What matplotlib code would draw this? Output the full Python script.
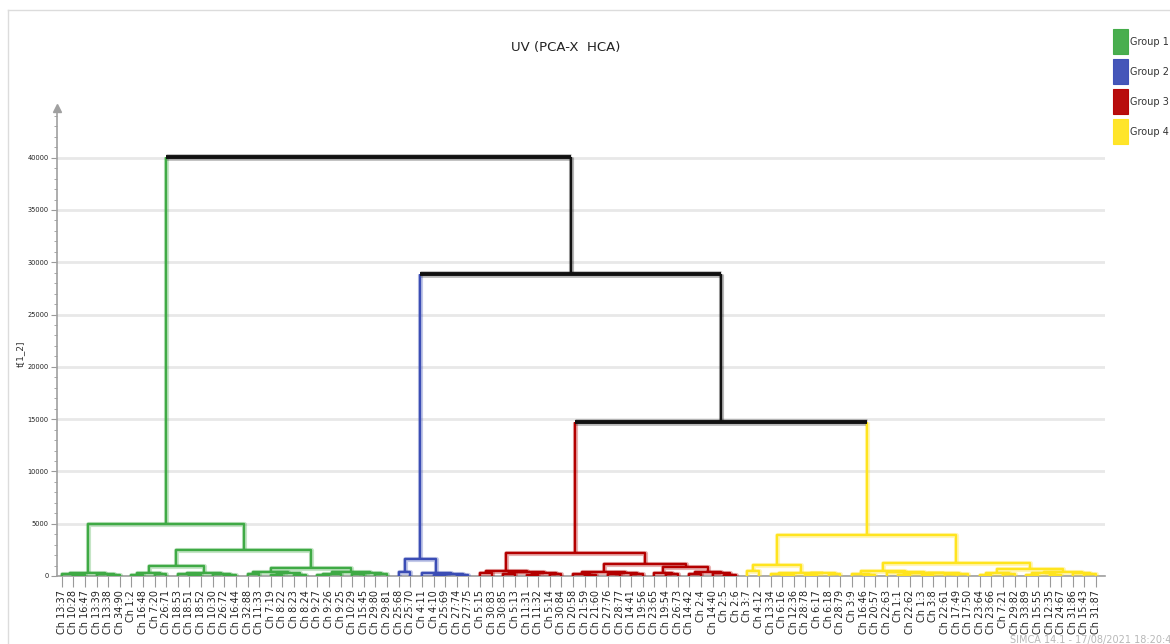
import matplotlib
matplotlib.use("Agg")
import matplotlib.pyplot as plt
from matplotlib import font_manager
from matplotlib.lines import Line2D
from matplotlib.patches import Rectangle
from matplotlib.ticker import MultipleLocator

# ---------------------------------------------------------------- data
title = "UV (PCA-X  HCA)"
y_label = "t[1_2]"
group_names = ["Group 1", "Group 2", "Group 3", "Group 4"]
group_colors = ["#3FAA45", "#3B4DB5", "#B40000", "#FFE41E"]

green_labels = ["Ch 13:37", "Ch 10:28", "Ch 16:47", "Ch 13:39", "Ch 13:38", "Ch 34:90",
                "Ch 1:2", "Ch 16:48", "Ch 7:20", "Ch 26:71", "Ch 18:53", "Ch 18:51",
                "Ch 18:52", "Ch 10:30", "Ch 26:72", "Ch 16:44", "Ch 32:88", "Ch 11:33",
                "Ch 7:19", "Ch 8:22", "Ch 8:23", "Ch 8:24", "Ch 9:27", "Ch 9:26",
                "Ch 9:25", "Ch 10:29", "Ch 15:45", "Ch 29:80", "Ch 29:81"]
blue_labels = ["Ch 25:68", "Ch 25:70", "Ch 4:11", "Ch 4:10", "Ch 25:69", "Ch 27:74",
               "Ch 27:75"]
red_labels = ["Ch 5:15", "Ch 30:83", "Ch 30:85", "Ch 5:13", "Ch 11:31", "Ch 11:32",
              "Ch 5:14", "Ch 30:84", "Ch 20:58", "Ch 21:59", "Ch 21:60", "Ch 27:76",
              "Ch 28:77", "Ch 14:41", "Ch 19:56", "Ch 23:65", "Ch 19:54", "Ch 26:73",
              "Ch 14:42", "Ch 2:4", "Ch 14:40", "Ch 2:5", "Ch 2:6"]
yellow_labels = ["Ch 3:7", "Ch 4:12", "Ch 13:34", "Ch 6:16", "Ch 12:36", "Ch 28:78",
                 "Ch 6:17", "Ch 6:18", "Ch 28:79", "Ch 3:9", "Ch 16:46", "Ch 20:57",
                 "Ch 22:63", "Ch 1:1", "Ch 22:62", "Ch 1:3", "Ch 3:8", "Ch 22:61",
                 "Ch 17:49", "Ch 17:50", "Ch 23:64", "Ch 23:66", "Ch 7:21", "Ch 29:82",
                 "Ch 33:89", "Ch 15:55", "Ch 12:35", "Ch 24:67", "Ch 31:86", "Ch 15:43",
                 "Ch 31:87"]

# cluster trees as (merge height, left, right); integers are leaf positions
green_tree = (5000,
              (300, (150, 0, (90, 1, 2)), (220, 3, (120, 4, 5))),
              (2480,
               (950, (250, (100, 6, 7), (150, 8, 9)),
                (300, (150, 10, (80, 11, 12)), (200, 13, (100, 14, 15)))),
               (760, (350, (150, 16, 17), (280, (100, 18, 19), (120, 20, 21))),
                (400, (200, (100, 22, 23), 24), (300, (150, 25, 26), (180, 27, 28))))))

blue_tree = (1600, (380, 29, 30), (300, 31, (200, (100, 32, 33), (120, 34, 35))))

red_tree = (2200,
            (450, (250, 36, 37), (350, (150, 38, 39), (280, (120, 40, 41), (200, 42, 43)))),
            (1100, (400, (200, 44, (100, 45, 46)), (300, (150, 47, 48), (180, 49, 50))),
             (850, (300, 51, (150, 52, 53)), (380, (200, 54, 55), (250, 56, (100, 57, 58))))))

yellow_tree = (3900,
               (1050, (500, 59, 60),
                (300, (150, 61, (80, 62, 63)), (250, (120, 64, 65), (180, 66, 67)))),
               (1230,
                (500, (200, 68, (100, 69, 70)),
                 (350, 71, (300, (120, 72, 73), (250, (100, 74, 75), (200, (150, 76, 77), 78))))),
                (700, (250, (100, 79, 80), (150, 81, 82)),
                 (400, (250, (100, 83, 84), (120, 85, 86)), (300, 87, (150, 88, 89))))))

red_yellow_height = 14700
blue_rest_height = 28900
root_height = 40100

# ---------------------------------------------------------------- fonts
plt.rcParams["font.family"] = ["DejaVu Sans"]
_installed = {f.name for f in font_manager.fontManager.ttflist}
if "Liberation Sans Narrow" in _installed:
    narrow = "Liberation Sans Narrow"
    title_size, legend_size, ytick_size = 10.5, 9, 6.5
else:
    narrow = "DejaVu Sans"
    title_size, legend_size, ytick_size = 9.5, 7, 4.8

# ---------------------------------------------------------------- figure
fig = plt.figure(figsize=(11.7, 6.44), dpi=100)
fig.patch.set_facecolor("white")
ax = fig.add_axes([57 / 1170, 1 - 576 / 644, (1105 - 57) / 1170, (576 - 108) / 644])

all_labels = green_labels + blue_labels + red_labels + yellow_labels


def seg(xs, ys, color, lw=1.7):
    ax.plot(xs, ys, color=color, lw=lw + 2.0, alpha=0.3, solid_capstyle="butt", zorder=3)
    ax.plot(xs, ys, color=color, lw=lw, solid_capstyle="butt", zorder=4)


def draw_tree(node, color):
    if isinstance(node, int):
        return float(node), 0.0
    h, left, right = node
    xl, hl = draw_tree(left, color)
    xr, hr = draw_tree(right, color)
    seg([xl, xl, xr, xr], [hl, h, h, hr], color)
    return (xl + xr) / 2, h


def join(a, b, h):
    (xa, ha, ca), (xb, hb, cb) = a, b
    seg([xa, xa], [ha, h], ca)
    seg([xb, xb], [hb, h], cb)
    seg([xa, xb], [h, h], "#111111", lw=2.8)
    return (xa + xb) / 2, h, "#111111"


groups = []
for tree, col in zip([green_tree, blue_tree, red_tree, yellow_tree], group_colors):
    x, h = draw_tree(tree, col)
    groups.append((x, h, col))

ry = join(groups[2], groups[3], red_yellow_height)
br = join(groups[1], ry, blue_rest_height)
join(groups[0], br, root_height)

# ---------------------------------------------------------------- axes styling
n = len(all_labels)
ax.set_xlim(-0.4, n - 1 + 0.77)
ax.set_ylim(0, 44750)
ax.set_xticks(range(n))
ax.set_xticklabels(all_labels, rotation=90, fontsize=7, color="#222222")
ax.yaxis.set_major_locator(MultipleLocator(5000))
ax.yaxis.set_minor_locator(MultipleLocator(1000))
ax.tick_params(axis="x", length=8, width=0.8, color="#9a9a9a", pad=2)
ax.tick_params(axis="y", which="major", length=4, width=0.8, color="#9a9a9a",
               labelsize=ytick_size, labelcolor="#222222", pad=2)
ax.tick_params(axis="y", which="minor", length=2, width=0.6, color="#9a9a9a")
for lab in ax.get_yticklabels():
    lab.set_fontfamily(narrow)
ax.grid(axis="y", which="major", color="#e8e8e8", lw=2)
ax.set_axisbelow(True)
for s in ("top", "right"):
    ax.spines[s].set_visible(False)
for s in ("left", "bottom"):
    ax.spines[s].set_color("#a0a0a0")
    ax.spines[s].set_linewidth(1.2)
ax.plot([0], [1.0], marker="^", markersize=6, color="#a0a0a0",
        transform=ax.transAxes, clip_on=False, zorder=5)

fig.text(0.0175, 0.45, y_label, rotation=90, ha="center", va="center",
         fontsize=6.5, color="#333333")
fig.text(566 / 1170, 1 - 47 / 644, title, ha="center", va="center",
         fontsize=title_size, color="#222222", family=narrow)

# legend boxes
for i, (name, col) in enumerate(zip(group_names, group_colors)):
    top = 29 + 30 * i
    fig.add_artist(Rectangle((1112.5 / 1170, 1 - (top + 25) / 644), 15 / 1170, 25 / 644,
                             transform=fig.transFigure, facecolor=col,
                             edgecolor=col, alpha=0.95, lw=0.8))
    fig.text(1129.5 / 1170, 1 - (top + 13) / 644, name, ha="left", va="center",
             fontsize=legend_size, color="#333333", family=narrow)

# frame lines and footer
fig.add_artist(Line2D([8 / 1170, 1], [1 - 10 / 644, 1 - 10 / 644],
                      transform=fig.transFigure, color="#dcdcdc", lw=1))
fig.add_artist(Line2D([8 / 1170, 8 / 1170], [0, 1 - 10 / 644],
                      transform=fig.transFigure, color="#dcdcdc", lw=1))
fig.text(1010 / 1170, 1 - 634 / 644, "SIMCA 14.1 - 17/08/2021 18:20:42 (UTC+1)",
         ha="left", va="top", fontsize=7, color="#b8b8b8", family=narrow)

fig.savefig("out.png", dpi=100)
